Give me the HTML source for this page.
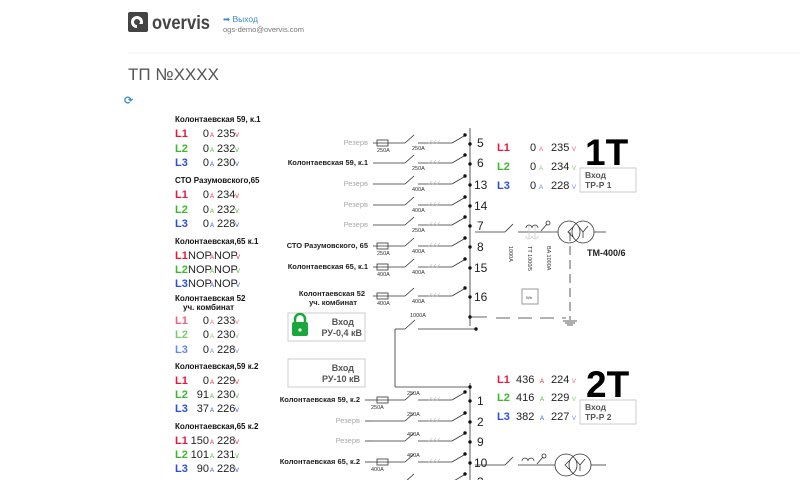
<!DOCTYPE html>
<html><head><meta charset="utf-8"><style>
body{margin:0;background:#fff;width:800px;height:480px;overflow:hidden}
svg{font-family:"Liberation Sans","DejaVu Sans",sans-serif;display:block}
.t{font-size:8px;font-weight:bold;fill:#111}
.L{font-size:11px;font-weight:bold}
.n{font-size:11px;fill:#222}
.u{font-size:6px}
.r{fill:#e8173c}.g{fill:#3cb82b}.b{fill:#2a4fd8}
.lr{fill:#f0607a}.lg{fill:#7acb6e}.lb{fill:#6a86e6}
.rl{font-size:7.5px;font-weight:bold;fill:#222;text-anchor:end}
.rz{font-size:7.5px;fill:#aaa;text-anchor:end}
.a{font-size:5.5px;fill:#333}
.num{font-size:12px;fill:#222}
line,path,rect.f,circle{stroke:#333;stroke-width:0.8;fill:none}
circle.d{fill:#111;stroke:none}
circle.w{fill:#fff;stroke:none}
.h{stroke:#ccc}
</style></head><body>
<svg width="800" height="480" viewBox="0 0 800 480">
<!-- header -->
<rect x="128" y="12" width="20" height="20" rx="2" fill="#444"/>
<circle class="w" cx="137" cy="22" r="6"/><circle cx="137" cy="22" r="3" style="fill:#444;stroke:none"/>
<rect x="137" y="24" width="8" height="6" fill="#444"/>
<text x="152" y="29" font-size="19" fill="#444" font-weight="bold" textLength="58" lengthAdjust="spacingAndGlyphs">overvis</text>
<text x="223" y="22" font-size="8.5" fill="#3a8ad0">➡ Выход</text>
<text x="223" y="32" font-size="7.5" fill="#777">ogs-demo@overvis.com</text>
<line x1="128" y1="53" x2="800" y2="53" style="stroke:#eee"/>
<text x="128" y="80" font-size="17" fill="#555">ТП №XXXX</text>
<text x="124" y="104" font-size="11" fill="#3a8ad0" font-weight="bold">⟳</text>

<!-- left data blocks -->
<g>
<text class="t" x="175" y="122">Колонтаевская 59, к.1</text>
<text class="L r" x="175" y="137">L1</text><text class="n" x="209" y="137" text-anchor="end">0</text><text class="u r" x="210" y="137">A</text><text class="n" x="217" y="137">235</text><text class="u r" x="235" y="137">V</text>
<text class="L g" x="175" y="152">L2</text><text class="n" x="209" y="152" text-anchor="end">0</text><text class="u g" x="210" y="152">A</text><text class="n" x="217" y="152">232</text><text class="u g" x="235" y="152">V</text>
<text class="L b" x="175" y="166">L3</text><text class="n" x="209" y="166" text-anchor="end">0</text><text class="u b" x="210" y="166">A</text><text class="n" x="217" y="166">230</text><text class="u b" x="235" y="166">V</text>

<text class="t" x="175" y="183">СТО Разумовского,65</text>
<text class="L r" x="175" y="198">L1</text><text class="n" x="209" y="198" text-anchor="end">0</text><text class="u r" x="210" y="198">A</text><text class="n" x="217" y="198">234</text><text class="u r" x="235" y="198">V</text>
<text class="L g" x="175" y="213">L2</text><text class="n" x="209" y="213" text-anchor="end">0</text><text class="u g" x="210" y="213">A</text><text class="n" x="217" y="213">232</text><text class="u g" x="235" y="213">V</text>
<text class="L b" x="175" y="227">L3</text><text class="n" x="209" y="227" text-anchor="end">0</text><text class="u b" x="210" y="227">A</text><text class="n" x="217" y="227">228</text><text class="u b" x="235" y="227">V</text>

<text class="t" x="175" y="244">Колонтаевская,65 к.1</text>
<text class="L r" x="175" y="259">L1</text><text class="n" x="188" y="259">NOP</text><text class="u r" x="210" y="259">A</text><text class="n" x="214" y="259">NOP</text><text class="u r" x="236" y="259">V</text>
<text class="L g" x="175" y="273">L2</text><text class="n" x="188" y="273">NOP</text><text class="u g" x="210" y="273">A</text><text class="n" x="214" y="273">NOP</text><text class="u g" x="236" y="273">V</text>
<text class="L b" x="175" y="287">L3</text><text class="n" x="188" y="287">NOP</text><text class="u b" x="210" y="287">A</text><text class="n" x="214" y="287">NOP</text><text class="u b" x="236" y="287">V</text>

<text class="t" x="175" y="301">Колонтаевская 52</text>
<text class="t" x="183" y="310">уч. комбинат</text>
<text class="L lr" x="175" y="324" font-weight="normal">L1</text><text class="n" x="209" y="324" text-anchor="end">0</text><text class="u lr" x="210" y="324">A</text><text class="n" x="217" y="324">233</text><text class="u lr" x="235" y="324">V</text>
<text class="L lg" x="175" y="338" font-weight="normal">L2</text><text class="n" x="209" y="338" text-anchor="end">0</text><text class="u lg" x="210" y="338">A</text><text class="n" x="217" y="338">230</text><text class="u lg" x="235" y="338">V</text>
<text class="L lb" x="175" y="353" font-weight="normal">L3</text><text class="n" x="209" y="353" text-anchor="end">0</text><text class="u lb" x="210" y="353">A</text><text class="n" x="217" y="353">228</text><text class="u lb" x="235" y="353">V</text>

<text class="t" x="175" y="369">Колонтаевская,59 к.2</text>
<text class="L r" x="175" y="384">L1</text><text class="n" x="209" y="384" text-anchor="end">0</text><text class="u r" x="210" y="384">A</text><text class="n" x="217" y="384">229</text><text class="u r" x="235" y="384">V</text>
<text class="L g" x="175" y="398">L2</text><text class="n" x="209" y="398" text-anchor="end">91</text><text class="u g" x="210" y="398">A</text><text class="n" x="217" y="398">230</text><text class="u g" x="235" y="398">V</text>
<text class="L b" x="175" y="412">L3</text><text class="n" x="209" y="412" text-anchor="end">37</text><text class="u b" x="210" y="412">A</text><text class="n" x="217" y="412">226</text><text class="u b" x="235" y="412">V</text>

<text class="t" x="175" y="429">Колонтаевская,65 к.2</text>
<text class="L r" x="175" y="444">L1</text><text class="n" x="209" y="444" text-anchor="end">150</text><text class="u r" x="210" y="444">A</text><text class="n" x="217" y="444">228</text><text class="u r" x="235" y="444">V</text>
<text class="L g" x="175" y="458">L2</text><text class="n" x="209" y="458" text-anchor="end">101</text><text class="u g" x="210" y="458">A</text><text class="n" x="217" y="458">231</text><text class="u g" x="235" y="458">V</text>
<text class="L b" x="175" y="472">L3</text><text class="n" x="209" y="472" text-anchor="end">90</text><text class="u b" x="210" y="472">A</text><text class="n" x="217" y="472">228</text><text class="u b" x="235" y="472">V</text>
</g>

<!-- buses -->
<line x1="470" y1="128" x2="470" y2="326"/>
<line x1="470" y1="383" x2="470" y2="480"/>

<defs>
<g id="row">
<line x1="373" y1="0" x2="405" y2="0"/><line x1="405" y1="0" x2="414" y2="-8"/>
<line x1="418" y1="0" x2="452" y2="0"/><line x1="452" y1="0" x2="464" y2="-7"/>
<line class="h" x1="428" y1="1" x2="432" y2="-3"/><line class="h" x1="432" y1="1" x2="436" y2="-3"/><line class="h" x1="436" y1="1" x2="440" y2="-3"/>
<circle class="d" cx="465" cy="-8" r="1.7"/><circle class="d" cx="470" cy="1" r="1.7"/>
</g>
<g id="fuse"><rect class="f" x="377" y="-3" width="11" height="6" fill="#fff"/></g>
</defs>

<!-- top rows -->
<g transform="translate(0,143)"><use href="#row"/><use href="#fuse"/><text class="rz" x="368" y="2">Резерв</text><text class="a" x="377" y="9">250A</text><text class="a" x="412" y="7">250A</text><text class="num" x="477" y="4">5</text></g>
<g transform="translate(0,163)"><use href="#row"/><text class="rl" x="368" y="2">Колонтаевская 59, к.1</text><text class="a" x="412" y="7">250A</text><text class="num" x="477" y="4">6</text></g>
<g transform="translate(0,184)"><use href="#row"/><text class="rz" x="368" y="2">Резерв</text><text class="a" x="412" y="7">400A</text><text class="num" x="474" y="5">13</text></g>
<g transform="translate(0,205)"><use href="#row"/><text class="rz" x="368" y="2">Резерв</text><text class="a" x="412" y="7">400A</text><text class="num" x="474" y="5">14</text></g>
<g transform="translate(0,225)"><use href="#row"/><text class="rz" x="368" y="2">Резерв</text><text class="a" x="412" y="7">250A</text><text class="num" x="477" y="5">7</text></g>
<g transform="translate(0,246)"><use href="#row"/><use href="#fuse"/><text class="rl" x="368" y="2">СТО Разумовского, 65</text><text class="a" x="377" y="9">250A</text><text class="a" x="412" y="7">400A</text><text class="num" x="477" y="5">8</text></g>
<g transform="translate(0,267)"><use href="#row"/><use href="#fuse"/><text class="rl" x="368" y="2">Колонтаевская 65, к.1</text><text class="a" x="377" y="9">400A</text><text class="a" x="412" y="7">400A</text><text class="num" x="474" y="5">15</text></g>
<g transform="translate(0,296)"><use href="#row"/><use href="#fuse"/><text class="rl" x="365" y="0">Колонтаевская 52</text><text class="rl" x="357" y="9">уч. комбинат</text><text class="a" x="377" y="9">400A</text><text class="a" x="412" y="7">400A</text><text class="num" x="474" y="5">16</text></g>

<!-- bottom rows -->
<g transform="translate(0,400)"><use href="#row"/><use href="#fuse"/><text class="rl" x="360" y="2">Колонтаевская 59, к.2</text><text class="a" x="371" y="9">250A</text><text class="a" x="407" y="-5">250A</text><text class="num" x="477" y="5">1</text></g>
<g transform="translate(0,421)"><use href="#row"/><text class="rz" x="360" y="2">Резерв</text><text class="a" x="407" y="-5">250A</text><text class="num" x="477" y="5">2</text></g>
<g transform="translate(0,441)"><use href="#row"/><text class="rz" x="360" y="2">Резерв</text><text class="a" x="407" y="-5">400A</text><text class="num" x="477" y="5">9</text></g>
<g transform="translate(0,462)"><use href="#row"/><use href="#fuse"/><text class="rl" x="360" y="2">Колонтаевская 65, к.2</text><text class="a" x="371" y="9">400A</text><text class="a" x="407" y="-5">400A</text><text class="num" x="474" y="5">10</text></g>
<line x1="365" y1="400" x2="373" y2="400"/><line x1="365" y1="462" x2="373" y2="462"/><line x1="365" y1="421" x2="373" y2="421"/><line x1="365" y1="441" x2="373" y2="441"/>
<g transform="translate(0,482)"><line x1="405" y1="0" x2="414" y2="-8"/><line x1="452" y1="0" x2="464" y2="-7"/><circle class="d" cx="465" cy="-8" r="1.7"/><text class="num" x="477" y="4">3</text></g>

<!-- tie connection -->
<circle class="d" cx="470" cy="317" r="1.7"/>
<line x1="470" y1="317" x2="487" y2="317"/>
<line x1="395" y1="329" x2="405" y2="329"/><line x1="405" y1="329" x2="415" y2="320"/>
<line x1="418" y1="329" x2="476" y2="329"/><circle class="d" cx="476" cy="329" r="1.7"/>
<text class="a" x="410" y="317">1000A</text>
<line x1="395" y1="329" x2="395" y2="387"/><line x1="395" y1="387" x2="470" y2="387"/>
<circle class="d" cx="470" cy="387" r="1.7"/>

<!-- boxes -->
<rect x="288" y="313" width="77" height="28" fill="#fff" stroke="#ccc"/>
<rect x="292" y="322" width="16" height="14" rx="2" fill="#1aa83c"/>
<path d="M295 322 v-3 a5 5 0 0 1 10 0 v3" style="stroke:#1aa83c;stroke-width:2.5"/>
<circle class="w" cx="300" cy="330" r="1.6"/>
<text x="354" y="325" font-size="9" font-weight="bold" fill="#555" text-anchor="end">Вход</text>
<text x="362" y="336" font-size="9" font-weight="bold" fill="#555" text-anchor="end">РУ-0,4 кВ</text>
<rect x="288" y="359" width="77" height="28" fill="#fff" stroke="#ccc"/>
<text x="354" y="371" font-size="9" font-weight="bold" fill="#555" text-anchor="end">Вход</text>
<text x="360" y="382" font-size="9" font-weight="bold" fill="#555" text-anchor="end">РУ-10 кВ</text>

<!-- 1T -->
<text class="L r" x="497" y="151">L1</text><text class="n" x="530" y="151" font-size="12">0</text><text class="u lr" x="539" y="151">A</text><text class="n" x="551" y="151" font-size="12">235</text><text class="u lr" x="572" y="151">V</text>
<text class="L g" x="497" y="170">L2</text><text class="n" x="530" y="170" font-size="12">0</text><text class="u lg" x="539" y="170">A</text><text class="n" x="551" y="170" font-size="12">234</text><text class="u lg" x="572" y="170">V</text>
<text class="L b" x="497" y="189">L3</text><text class="n" x="530" y="189" font-size="12">0</text><text class="u lb" x="539" y="189">A</text><text class="n" x="551" y="189" font-size="12">228</text><text class="u lb" x="572" y="189">V</text>
<text x="585" y="165" font-size="37" font-weight="bold" fill="#000">1T</text>
<rect x="580" y="168" width="56" height="24" fill="#fff" stroke="#ccc"/>
<text x="585" y="178" font-size="8.5" font-weight="bold" fill="#555">Вход</text>
<text x="585" y="188" font-size="8.5" font-weight="bold" fill="#555">ТР-Р 1</text>

<line x1="475" y1="232" x2="505" y2="232"/><line x1="505" y1="232" x2="513" y2="224"/>
<line x1="518" y1="232" x2="558" y2="232"/>
<path d="M526 228 a3 3 0 0 1 6 0 a3 3 0 0 1 6 0"/><line x1="529" y1="226" x2="529" y2="239" class="h"/><line x1="535" y1="226" x2="535" y2="239" class="h"/>
<path d="M526 236 a3 3 0 0 0 6 0 a3 3 0 0 0 6 0" class="h"/>
<line x1="541" y1="231" x2="547" y2="224"/><circle cx="548" cy="223" r="2"/>
<circle cx="569" cy="232" r="11"/><circle cx="583" cy="232" r="11"/>
<line x1="594" y1="232" x2="606" y2="232"/>
<path d="M573 227 L568 232 L573 237"/><path d="M578 226 L583 232 L588 226 M583 232 V238"/>
<text class="a" font-size="6.5" transform="translate(509,246) rotate(90)">1000A</text>
<text class="a" font-size="6.5" transform="translate(528,246) rotate(90)">TT 1000/5</text>
<text class="a" font-size="6.5" transform="translate(547,246) rotate(90)">BA 1000A</text>
<text x="587" y="256" font-size="9" font-weight="bold" fill="#222">ТМ-400/6</text>
<line x1="570" y1="232" x2="570" y2="320" stroke-dasharray="9,5" style="stroke-dasharray:9,5"/>
<line x1="496" y1="318" x2="566" y2="318" style="stroke-dasharray:14,8"/>
<line x1="563" y1="321" x2="577" y2="321"/><line x1="565" y1="323" x2="575" y2="323"/><line x1="567" y1="325" x2="573" y2="325"/>
<rect x="522" y="289" width="16" height="15" fill="#fff" stroke="#999"/>
<text x="526" y="299" font-size="4" fill="#333">Wh</text>

<!-- 2T -->
<text class="L r" x="497" y="383">L1</text><text class="n" x="516" y="383" font-size="12">436</text><text class="u r" x="540" y="383">A</text><text class="n" x="551" y="383" font-size="12">224</text><text class="u lr" x="572" y="383">V</text>
<text class="L g" x="497" y="401">L2</text><text class="n" x="516" y="401" font-size="12">416</text><text class="u g" x="540" y="401">A</text><text class="n" x="551" y="401" font-size="12">229</text><text class="u lg" x="572" y="401">V</text>
<text class="L b" x="497" y="420">L3</text><text class="n" x="516" y="420" font-size="12">382</text><text class="u b" x="540" y="420">A</text><text class="n" x="551" y="420" font-size="12">227</text><text class="u lb" x="572" y="420">V</text>
<text x="586" y="397" font-size="37" font-weight="bold" fill="#000">2T</text>
<rect x="580" y="400" width="56" height="24" fill="#fff" stroke="#ccc"/>
<text x="585" y="410" font-size="8.5" font-weight="bold" fill="#555">Вход</text>
<text x="585" y="420" font-size="8.5" font-weight="bold" fill="#555">ТР-Р 2</text>

<line x1="475" y1="465" x2="505" y2="465"/><line x1="505" y1="465" x2="513" y2="457"/>
<line x1="518" y1="465" x2="555" y2="465"/>
<path d="M522 461 a3 3 0 0 1 6 0 a3 3 0 0 1 6 0"/>
<line x1="537" y1="464" x2="543" y2="457"/><circle cx="544" cy="456" r="2"/>
<circle cx="566" cy="465" r="11"/><circle cx="580" cy="465" r="11"/>
<line x1="591" y1="465" x2="606" y2="465"/>
<path d="M570 460 L565 465 L570 470"/><path d="M575 459 L580 465 L585 459 M580 465 V471"/>
</svg>
</body></html>
